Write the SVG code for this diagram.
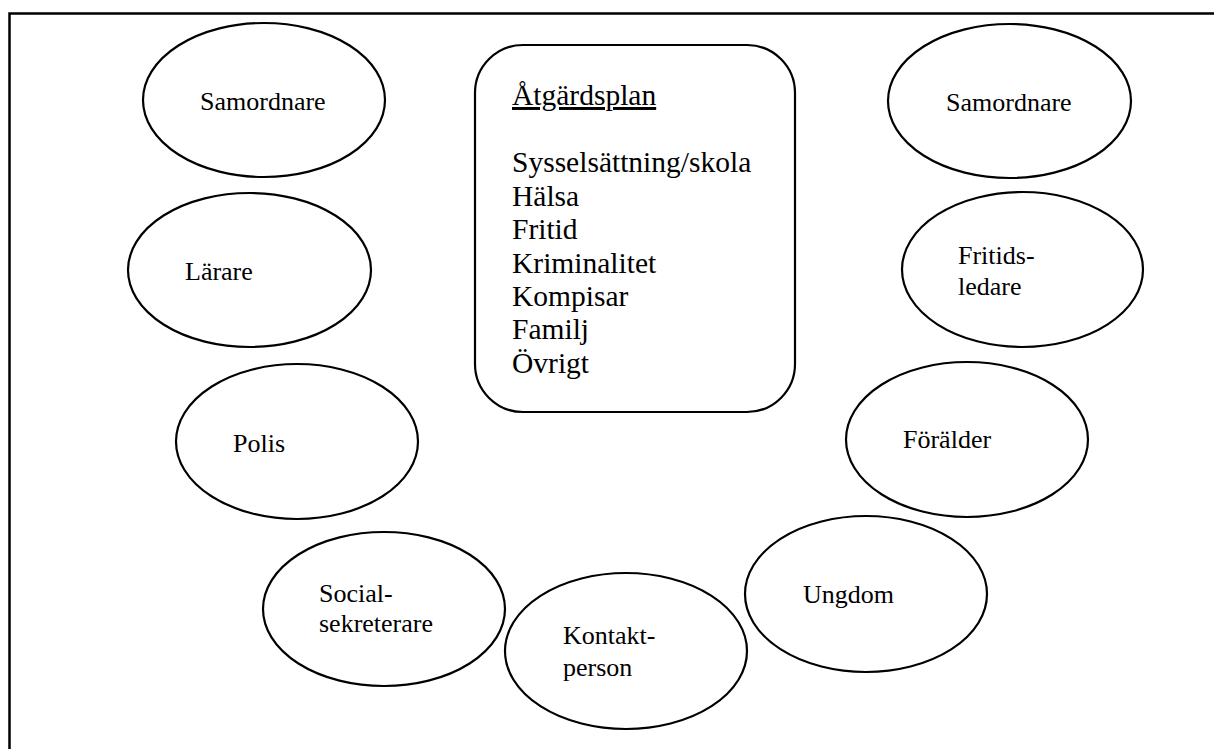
<svg xmlns="http://www.w3.org/2000/svg" width="1214" height="749" viewBox="0 0 1214 749">
  <style>
    .node { fill: #ffffff; stroke: #000000; stroke-width: 2.2; }
    .lbl { font-family: "Liberation Serif", "DejaVu Serif", "Times New Roman", serif; font-size: 26px; fill: #000000; }
    .lst { font-family: "Liberation Serif", "DejaVu Serif", "Times New Roman", serif; font-size: 29.5px; fill: #000000; }
    .frame { fill: none; stroke: #000000; stroke-width: 2.5; }
  </style>
  <rect x="0" y="0" width="1214" height="749" fill="#ffffff"/>
  <path id="frame" class="frame" d="M9.5,760 L9.5,13.5 L1225,13.5"/>
  <g id="connectors"/>
  <g id="plan">
    <rect class="node" x="475" y="45" width="320" height="367" rx="48" ry="48"/>
    <text class="lst" x="512" y="105" text-decoration="underline">Åtgärdsplan</text>
    <text class="lst" x="512" y="172">Sysselsättning/skola</text>
    <text class="lst" x="512" y="206">Hälsa</text>
    <text class="lst" x="512" y="239">Fritid</text>
    <text class="lst" x="512" y="273">Kriminalitet</text>
    <text class="lst" x="512" y="306">Kompisar</text>
    <text class="lst" x="512" y="339">Familj</text>
    <text class="lst" x="512" y="373">Övrigt</text>
  </g>
  <g id="samordnare-left">
    <ellipse class="node" cx="264" cy="100" rx="121" ry="77"/>
    <text class="lbl" x="200" y="110">Samordnare</text>
  </g>
  <g id="larare">
    <ellipse class="node" cx="249.5" cy="270" rx="121.5" ry="77"/>
    <text class="lbl" x="185" y="280">Lärare</text>
  </g>
  <g id="polis">
    <ellipse class="node" cx="297" cy="441.5" rx="121" ry="77.5"/>
    <text class="lbl" x="233" y="452">Polis</text>
  </g>
  <g id="socialsekreterare">
    <ellipse class="node" cx="384" cy="609" rx="121" ry="77"/>
    <text class="lbl" x="319" y="602">Social-</text>
    <text class="lbl" x="319" y="632">sekreterare</text>
  </g>
  <g id="kontaktperson">
    <ellipse class="node" cx="626" cy="651" rx="121" ry="78"/>
    <text class="lbl" x="563" y="644">Kontakt-</text>
    <text class="lbl" x="563" y="676">person</text>
  </g>
  <g id="ungdom">
    <ellipse class="node" cx="866" cy="594" rx="121" ry="78"/>
    <text class="lbl" x="803" y="603">Ungdom</text>
  </g>
  <g id="foralder">
    <ellipse class="node" cx="967" cy="439.5" rx="121" ry="77.5"/>
    <text class="lbl" x="903" y="448">Förälder</text>
  </g>
  <g id="fritidsledare">
    <ellipse class="node" cx="1022.5" cy="269.5" rx="120.5" ry="77.5"/>
    <text class="lbl" x="958" y="264">Fritids-</text>
    <text class="lbl" x="958" y="295">ledare</text>
  </g>
  <g id="samordnare-right">
    <ellipse class="node" cx="1009.5" cy="101" rx="121.5" ry="77"/>
    <text class="lbl" x="946" y="111">Samordnare</text>
  </g>
</svg>
